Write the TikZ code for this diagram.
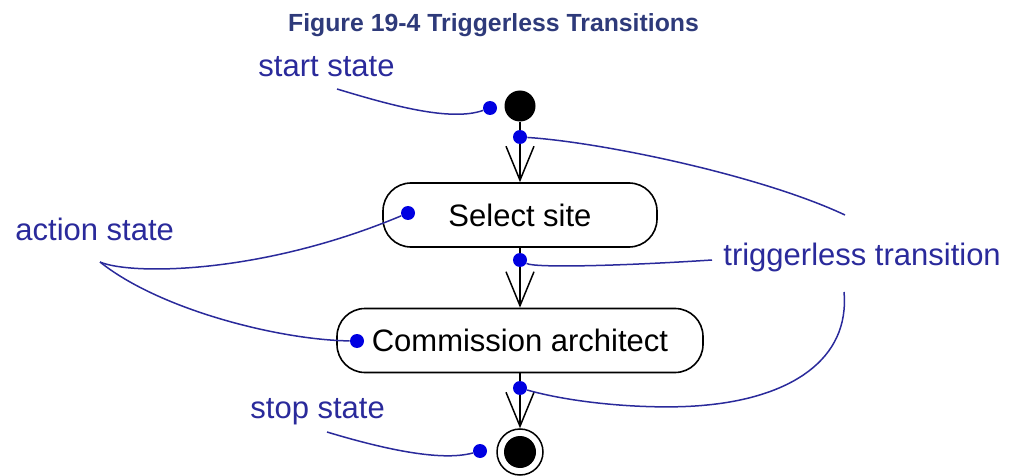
\documentclass[tikz,border=0pt]{standalone}
\usepackage{fontspec}
\setmainfont{Liberation Sans}
\usepackage{xcolor}
\usetikzlibrary{arrows.meta}
\usetikzlibrary{math}

\definecolor{titleblue}{RGB}{46,58,122}
\definecolor{noteblue}{RGB}{42,42,155}
\definecolor{dotblue}{RGB}{0,0,225}

\tikzset{
state/.style={draw, line width=0.8pt, rounded corners=14pt, minimum height=32pt, inner sep=0pt, font=\fontsize{15.5}{18}\selectfont},
note/.style={text=noteblue, inner sep=0pt, font=\fontsize{15.5}{18}\selectfont},
bluedot/.style={circle, fill=dotblue, minimum size=7pt, inner sep=0pt},
leader/.style={draw=noteblue, line width=0.75pt},
flow/.style={draw, line width=0.75pt, -{Straight Barb[length=17pt, width=14pt, line width=0.75pt]}},
}

\begin{document}
\begin{tikzpicture}[x=0.5pt, y=-0.5pt]
\tikzmath{
\cx=520;
}
\useasboundingbox (0,0) rectangle (1013,476);

\node[anchor=base, text=titleblue, font=\fontsize{12.4}{15}\bfseries] (title) at (493.5,32) {Figure 19-4 Triggerless Transitions};

% states
\node[circle, fill=black, minimum size=15.5pt, inner sep=0pt] (start) at (\cx,106) {};
\node[state, minimum width=137pt] (select) at (\cx,215) {Select site};
\node[state, minimum width=183pt] (commission) at (\cx,340.5) {Commission architect};
\node[circle, draw, line width=0.75pt, minimum size=23pt, inner sep=0pt] (stop) at (\cx,452) {};
\node[circle, fill=black, minimum size=16pt, inner sep=0pt] (stopin) at (\cx,452) {};

\draw[flow] (start) -- (select);
\draw[flow] (select) -- (commission);
\draw[flow] (commission) -- (stop);

% labels
\node[note, anchor=base west] (startlbl) at (258,77) {start state};
\node[note, anchor=base west] (actionlbl) at (15,241) {action state};
\node[note, anchor=base west] (triglbl) at (723,265) {triggerless transition};
\node[note, anchor=base west] (stoplbl) at (250,418) {stop state};

\node[bluedot] (ds) at (490,108) {};
\node[bluedot] (dt1) at (\cx,137) {};
\node[bluedot] (da1) at (408,213) {};
\node[bluedot] (dt2) at (\cx,260) {};
\node[bluedot] (da2) at (357,341) {};
\node[bluedot] (dt3) at (\cx,388) {};
\node[bluedot] (dst) at (480,451) {};

\coordinate (startend) at (337,89);
\coordinate (actionend) at (100,262);
\coordinate (trigA) at (845,215);
\coordinate (trigB) at (712,260);
\coordinate (trigC) at (844,292);
\coordinate (stopend) at (327,432);

\draw[leader] (startend) .. controls (390,105) and (450,122) .. (ds);
\draw[leader] (actionend) .. controls (130,275) and (260,275) .. (da1);
\draw[leader] (actionend) .. controls (160,310) and (280,340) .. (da2);
\draw[leader] (dt1) .. controls (600,142) and (760,175) .. (trigA);
\draw[leader] (dt2) .. controls (535,268) and (620,266) .. (trigB);
\draw[leader] (dt3) .. controls (580,405) and (660,410) .. (707,405) .. controls (790,397) and (850,360) .. (trigC);
\draw[leader] (stopend) .. controls (380,448) and (440,462) .. (dst);

\end{tikzpicture}
\end{document}
